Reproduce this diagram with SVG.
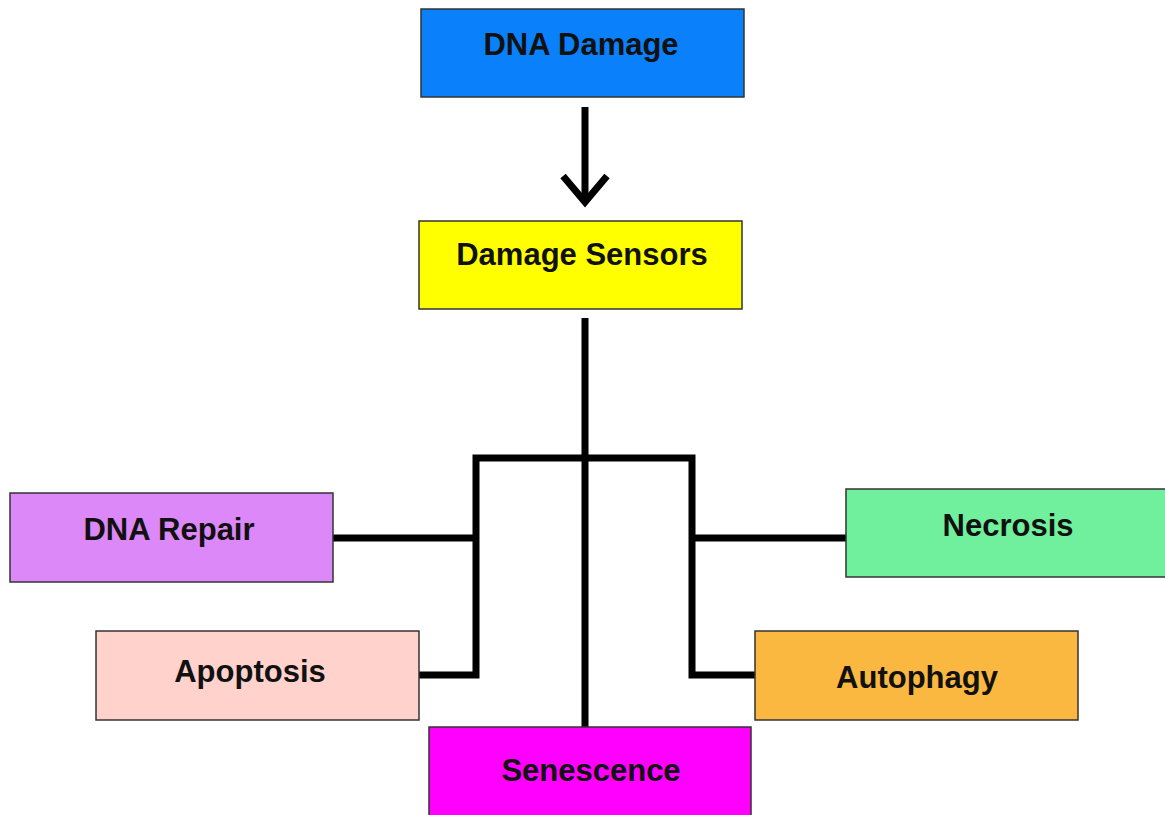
<svg xmlns="http://www.w3.org/2000/svg" width="1165" height="815" viewBox="0 0 1165 815">
<style>
.box{stroke:#333;stroke-width:1.5}
.lbl{font-family:"Liberation Sans",Arial,sans-serif;font-weight:bold;font-size:31px;fill:#111;text-anchor:middle}
.ln{fill:none;stroke:#000;stroke-width:7;stroke-linejoin:miter}
</style>
<rect width="1165" height="815" fill="#ffffff"/>
<g id="connectors">
<path class="ln" d="M585,107 V202"/>
<path class="ln" d="M563,176 L585,202 L607,176"/>
<path class="ln" d="M585,318 V727"/>
<path class="ln" d="M419,675 H476 V458 H692 V675 H755"/>
<path class="ln" d="M333,538 H476"/>
<path class="ln" d="M692,538 H846"/>
</g>
<g id="dna-damage"><rect class="box" x="421" y="9" width="323" height="88" fill="#0a80fa"/><text class="lbl" x="581" y="55">DNA Damage</text></g>
<g id="damage-sensors"><rect class="box" x="419" y="221" width="323" height="88" fill="#ffff00"/><text class="lbl" x="582" y="265">Damage Sensors</text></g>
<g id="dna-repair"><rect class="box" x="10" y="493" width="323" height="89" fill="#dd88f8"/><text class="lbl" x="169" y="540">DNA Repair</text></g>
<g id="apoptosis"><rect class="box" x="96" y="631" width="323" height="89" fill="#ffd2cc"/><text class="lbl" x="250" y="682">Apoptosis</text></g>
<g id="senescence"><rect class="box" x="429" y="727" width="322" height="90" fill="#ff00ff"/><text class="lbl" x="591" y="781">Senescence</text></g>
<g id="necrosis"><rect class="box" x="846" y="489" width="321" height="88" fill="#70f09c"/><text class="lbl" x="1008" y="536">Necrosis</text></g>
<g id="autophagy"><rect class="box" x="755" y="631" width="323" height="89" fill="#fbb840"/><text class="lbl" x="917" y="688">Autophagy</text></g>
</svg>
